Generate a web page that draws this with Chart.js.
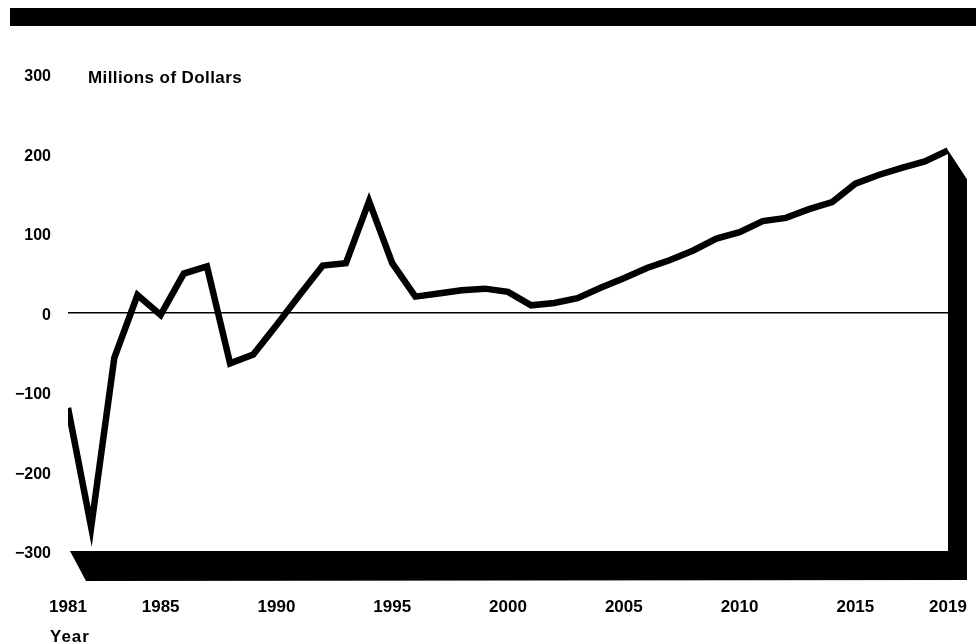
<!DOCTYPE html>
<html>
<head>
<meta charset="utf-8">
<script src="https://cdn.jsdelivr.net/npm/chart.js@4/dist/chart.umd.min.js"></script>
<style>
  html, body { margin: 0; padding: 0; background: #fff; }
  #wrap { width: 976px; height: 644px; position: relative; }
</style>
</head>
<body>
<div id="wrap"><canvas id="c" width="976" height="644"></canvas></div>
<script>
// ---- data ----
const years = [1981,1982,1983,1984,1985,1986,1987,1988,1989,1990,
               1991,1992,1993,1994,1995,1996,1997,1998,1999,2000,
               2001,2002,2003,2004,2005,2006,2007,2008,2009,2010,
               2011,2012,2013,2014,2015,2016,2017,2018,2019];
const values = [-120,-270,-57,22,-3,49,58,-64,-53,-16,
                22,59,62,140,62,20,24,28,30,26,
                9,12,18,31,43,56,66,78,93,101,
                115,119,130,139,162,173,182,190,204];
const xTickYears = [1981,1985,1990,1995,2000,2005,2010,2015,2019];
const yTickValues = [-300,-200,-100,0,100,200,300];
const yAxisTitle = 'Millions of Dollars';
const xAxisTitle = 'Year';

const FONT = '"Liberation Sans", Arial, Helvetica, sans-serif';

const decor = {
  id: 'decor',
  beforeDraw(chart) {
    const ctx = chart.ctx;
    ctx.save();
    ctx.fillStyle = '#fff';
    ctx.fillRect(0, 0, chart.width, chart.height);
    // top black band
    ctx.fillStyle = '#000';
    ctx.fillRect(10, 8, chart.width - 10, 18);
    ctx.restore();
  },
  afterDatasetsDraw(chart) {
    const ctx = chart.ctx;
    const a = chart.chartArea;
    const meta = chart.getDatasetMeta(0);
    const last = meta.data[meta.data.length - 1];
    const dx = 19, dy = 29;
    ctx.save();
    ctx.fillStyle = '#000';
    ctx.beginPath();
    ctx.moveTo(a.left + 2, a.bottom);
    ctx.lineTo(a.right, a.bottom);
    ctx.lineTo(a.right, last.y);
    ctx.lineTo(a.right + dx, last.y + dy);
    ctx.lineTo(a.right + dx, a.bottom + dy);
    ctx.lineTo(a.left + dx - 1, a.bottom + dy + 1);
    ctx.closePath();
    ctx.fill();
    // texts
    ctx.fillStyle = '#000';
    ctx.textBaseline = 'middle';
    ctx.textAlign = 'left';
    ctx.font = 'bold 17px ' + FONT;
    try { ctx.letterSpacing = '0.4px'; } catch (e) {}
    ctx.fillText(yAxisTitle, 88, 78);
    try { ctx.letterSpacing = '1px'; } catch (e) {}
    ctx.fillText(xAxisTitle, 50, 637);
    ctx.restore();
  }
};

new Chart(document.getElementById('c'), {
  type: 'line',
  data: {
    datasets: [{
      data: years.map((y, i) => ({ x: y, y: values[i] })),
      borderColor: '#000',
      borderWidth: 6.5,
      pointRadius: 0,
      tension: 0,
      borderJoinStyle: 'miter',
      borderCapStyle: 'butt',
      fill: false
    }]
  },
  options: {
    responsive: false,
    animation: false,
    devicePixelRatio: 1,
    layout: { padding: { top: 74, right: 28, left: 0, bottom: 0 } },
    plugins: { legend: { display: false }, tooltip: { enabled: false } },
    scales: {
      x: {
        type: 'linear',
        min: 1981, max: 2019,
        afterBuildTicks: s => { s.ticks = xTickYears.map(v => ({ value: v })); },
        afterFit: s => { s.height = 93; s.paddingLeft = 0; s.paddingRight = 0; },
        border: { display: false },
        grid: { display: false, drawTicks: false },
        ticks: {
          color: '#000',
          font: { family: FONT, size: 17, weight: 'bold' },
          padding: 46,
          maxRotation: 0,
          autoSkip: false,
          callback: v => String(v)
        }
      },
      y: {
        min: -300, max: 300,
        afterBuildTicks: s => { s.ticks = yTickValues.map(v => ({ value: v })); },
        afterFit: s => { s.width = 68; s.paddingTop = 0; s.paddingBottom = 0; },
        border: { display: false },
        grid: {
          drawTicks: false,
          color: c => (c.tick && c.tick.value === 0) ? '#000' : 'rgba(0,0,0,0)',
          lineWidth: c => (c.tick && c.tick.value === 0) ? 1.5 : 0
        },
        ticks: {
          color: '#000',
          font: { family: FONT, size: 16, weight: 'bold' },
          padding: 17,
          labelOffset: 3,
          callback: v => (v < 0 ? '\u2212' + Math.abs(v) : String(v))
        }
      }
    }
  },
  plugins: [decor]
});
</script>
</body>
</html>
